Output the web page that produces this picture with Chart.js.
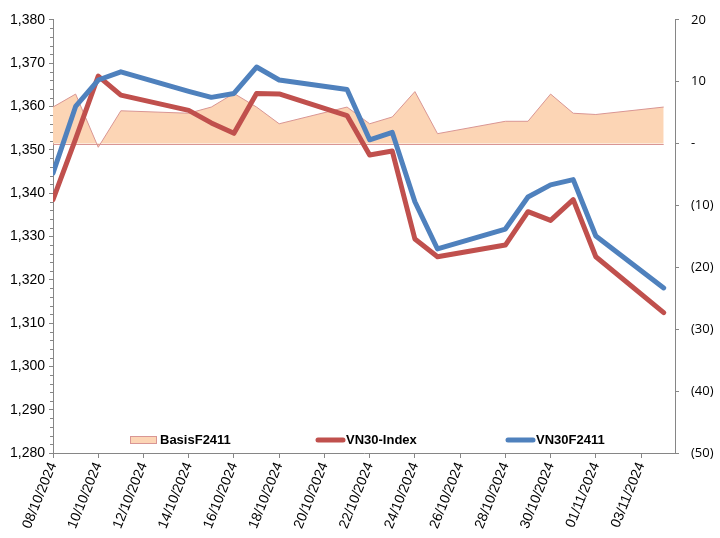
<!DOCTYPE html>
<html>
<head>
<meta charset="utf-8">
<title>VN30 vs VN30F2411</title>
<script src="https://cdn.jsdelivr.net/npm/chart.js@4.4.1/dist/chart.umd.min.js"></script>
<style>
    html, body { margin: 0; padding: 0; background: #ffffff; }
    #wrap { width: 720px; height: 538px; }
</style>
</head>
<body>
<div id="wrap"><canvas id="basisChart"></canvas></div>
<script>
// Trading days
const dates = ['08/10/2024', '09/10/2024', '10/10/2024', '11/10/2024', '14/10/2024', '15/10/2024',
    '16/10/2024', '17/10/2024', '18/10/2024', '21/10/2024', '22/10/2024', '23/10/2024', '24/10/2024',
    '25/10/2024', '28/10/2024', '29/10/2024', '30/10/2024', '31/10/2024', '01/11/2024', '04/11/2024'];

// Series values
const vn30Index = [1338.5, 1352.5, 1367.0, 1362.6, 1359.1, 1356.2, 1353.8, 1363.0, 1362.9, 1357.9,
    1348.8, 1349.7, 1329.4, 1325.3, 1328.0, 1335.7, 1333.7, 1338.5, 1325.3, 1312.4];
const vn30F2411 = [1344.6, 1360.0, 1366.1, 1368.0, 1363.5, 1362.1, 1363.0, 1369.1, 1366.1, 1363.9,
    1352.3, 1354.0, 1338.0, 1327.1, 1331.7, 1339.1, 1341.9, 1343.1, 1330.1, 1318.1];
const basisF2411 = [5.9, 8.0, -0.6, 5.3, 4.9, 5.9, 8.1, 5.9, 3.2, 5.9,
    3.2, 4.3, 8.4, 1.6, 3.6, 3.6, 8.0, 4.9, 4.7, 5.9];

// Tick labels
const xTickDates = ['08/10/2024', '10/10/2024', '12/10/2024', '14/10/2024', '16/10/2024', '18/10/2024',
    '20/10/2024', '22/10/2024', '24/10/2024', '26/10/2024', '28/10/2024', '30/10/2024', '01/11/2024', '03/11/2024'];
const leftTicks = [1280, 1290, 1300, 1310, 1320, 1330, 1340, 1350, 1360, 1370, 1380];
const rightTicks = [-50, -40, -30, -20, -10, 0, 10, 20];

// day number counted from the first date
function dayOf(str) {
    const p = str.split('/');
    const base = dates[0].split('/');
    const t = Date.UTC(+p[2], +p[1] - 1, +p[0]);
    const t0 = Date.UTC(+base[2], +base[1] - 1, +base[0]);
    return Math.round((t - t0) / 86400000);
}

function toPoints(values) {
    return values.map((v, i) => ({ x: dayOf(dates[i]), y: v }));
}

const axisGray = '#868686';
const labelFont = { family: "'Liberation Sans', Arial, sans-serif", size: 14 };

// Minor ticks, area baseline and the legend inside the plot
const excelExtras = {
    id: 'excelExtras',
    afterDatasetDraw(chart, args) {
        if (args.meta.yAxisID !== 'y1') return;
        const ctx = chart.ctx;
        const xs = chart.scales.x;
        const y0 = Math.round(chart.scales.y1.getPixelForValue(0)) + 0.5;
        ctx.save();
        ctx.strokeStyle = '#D99694';
        ctx.lineWidth = 1;
        ctx.beginPath();
        ctx.moveTo(xs.getPixelForValue(dayOf(dates[0])), y0);
        ctx.lineTo(xs.getPixelForValue(dayOf(dates[dates.length - 1])), y0);
        ctx.stroke();
        ctx.restore();
    },
    afterDraw(chart) {
        const ctx = chart.ctx;
        const area = chart.chartArea;
        const ys = chart.scales.y;

        // minor ticks on the left axis
        ctx.save();
        ctx.strokeStyle = axisGray;
        ctx.lineWidth = 1;
        ctx.beginPath();
        for (let v = leftTicks[0]; v <= leftTicks[leftTicks.length - 1]; v += 2) {
            if (v % 10 === 0) continue;
            const py = Math.round(ys.getPixelForValue(v)) + 0.5;
            ctx.moveTo(area.left - 3, py);
            ctx.lineTo(area.left, py);
        }
        ctx.stroke();

        // legend
        const ly = area.bottom - 13;
        ctx.font = "bold 13px 'Liberation Sans', Arial, sans-serif";
        ctx.textBaseline = 'middle';
        ctx.fillStyle = '#000000';

        let lx = area.left + 77;
        ctx.fillStyle = '#FCD5B5';
        ctx.fillRect(lx, ly - 3, 26, 6);
        ctx.strokeStyle = '#D99694';
        ctx.strokeRect(lx + 0.5, ly - 3.5, 26, 7);
        ctx.fillStyle = '#000000';
        ctx.fillText('BasisF2411', lx + 30, ly);

        const lineItems = [
            { text: 'VN30-Index', color: '#C0504D', x: area.left + 263 },
            { text: 'VN30F2411', color: '#4F81BD', x: area.left + 453 }
        ];
        lineItems.forEach(item => {
            ctx.strokeStyle = item.color;
            ctx.lineWidth = 5;
            ctx.lineCap = 'round';
            ctx.beginPath();
            ctx.moveTo(item.x + 2, ly);
            ctx.lineTo(item.x + 27, ly);
            ctx.stroke();
            ctx.fillText(item.text, item.x + 30, ly);
        });
        ctx.restore();
    }
};

const ctx = document.getElementById('basisChart').getContext('2d');
const basisChart = new Chart(ctx, {
    type: 'line',
    data: {
        datasets: [
            {
                label: 'VN30F2411',
                data: toPoints(vn30F2411),
                yAxisID: 'y',
                borderColor: '#4F81BD',
                borderWidth: 5,
                borderJoinStyle: 'round',
                borderCapStyle: 'round',
                pointRadius: 0,
                tension: 0,
                fill: false,
                order: 0
            },
            {
                label: 'VN30-Index',
                data: toPoints(vn30Index),
                yAxisID: 'y',
                borderColor: '#C0504D',
                borderWidth: 5,
                borderJoinStyle: 'round',
                borderCapStyle: 'round',
                pointRadius: 0,
                tension: 0,
                fill: false,
                order: 1
            },
            {
                label: 'BasisF2411',
                data: toPoints(basisF2411),
                yAxisID: 'y1',
                borderColor: '#D99694',
                borderWidth: 1,
                backgroundColor: '#FCD5B5',
                pointRadius: 0,
                tension: 0,
                fill: 'origin',
                order: 2
            }
        ]
    },
    options: {
        responsive: true,
        maintainAspectRatio: false,
        animation: false,
        layout: { padding: { top: 15, left: 0, right: 0, bottom: 0 } },
        plugins: {
            legend: { display: false },
            tooltip: { enabled: false }
        },
        scales: {
            x: {
                type: 'linear',
                min: 0,
                max: dayOf(dates[dates.length - 1]) + 0.5,
                afterBuildTicks: (scale) => {
                    scale.ticks = xTickDates.map(d => ({ value: dayOf(d) }));
                },
                afterFit: (scale) => { scale.height = 85; },
                ticks: {
                    autoSkip: false,
                    minRotation: 68,
                    maxRotation: 68,
                    padding: 2,
                    color: '#000000',
                    font: labelFont,
                    callback: (value, index) => xTickDates[index]
                },
                grid: { drawOnChartArea: false, drawTicks: true, tickLength: 5, color: axisGray },
                border: { color: axisGray, width: 1 }
            },
            y: {
                position: 'left',
                min: leftTicks[0],
                max: leftTicks[leftTicks.length - 1],
                afterBuildTicks: (scale) => {
                    scale.ticks = leftTicks.map(v => ({ value: v }));
                },
                afterFit: (scale) => { scale.width = 53; },
                ticks: {
                    padding: 4,
                    color: '#000000',
                    font: labelFont,
                    callback: (value) => value.toLocaleString('en-US')
                },
                grid: { drawOnChartArea: false, drawTicks: true, tickLength: 4, color: axisGray },
                border: { color: axisGray, width: 1 }
            },
            y1: {
                position: 'right',
                min: rightTicks[0],
                max: rightTicks[rightTicks.length - 1],
                afterBuildTicks: (scale) => {
                    scale.ticks = rightTicks.map(v => ({ value: v }));
                },
                afterFit: (scale) => { scale.width = 45; },
                ticks: {
                    padding: 12,
                    color: '#000000',
                    font: { family: "'Open Sans', sans-serif", size: 13 },
                    callback: (value) => value === 0 ? '-' : (value < 0 ? '(' + (-value) + ')' : String(value))
                },
                grid: { drawOnChartArea: false, drawTicks: true, tickLength: 4, color: axisGray },
                border: { color: axisGray, width: 1 }
            }
        }
    },
    plugins: [excelExtras]
});
</script>
</body>
</html>
